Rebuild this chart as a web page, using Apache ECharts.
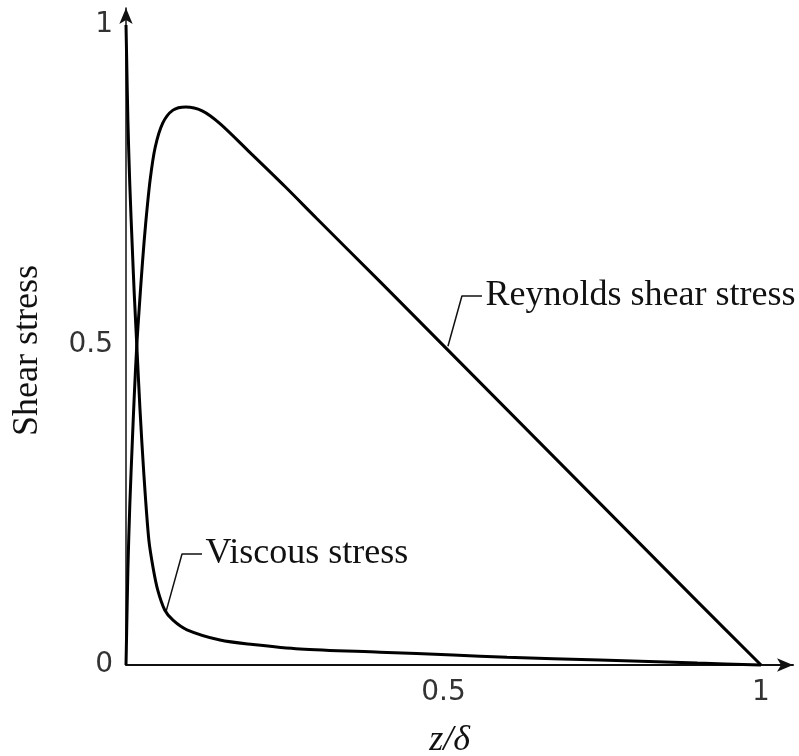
<!DOCTYPE html>
<html><head><meta charset="utf-8">
<script src="https://cdn.jsdelivr.net/npm/echarts@6/dist/echarts.min.js"></script>
<style>html,body{margin:0;padding:0;background:#fff}#c{width:799px;height:756px}</style>
</head><body><div id="c"></div>
<script>
// ---- data ----
const viscousX = [0, 0.001, 0.003, 0.006, 0.010, 0.013, 0.017, 0.022, 0.028, 0.036, 0.043, 0.050, 0.061, 0.074, 0.096, 0.148, 0.200, 0.274, 0.400, 0.515, 0.600, 0.746, 0.900, 1.000];
const viscousY = [1.0, 0.95, 0.85, 0.75, 0.65, 0.58, 0.50, 0.40, 0.30, 0.195, 0.15, 0.117, 0.086, 0.070, 0.055, 0.039, 0.032, 0.025, 0.020, 0.0156, 0.012, 0.0078, 0.003, 0.0];
const reynoldsX = [0, 0.001, 0.003, 0.006, 0.010, 0.013, 0.017, 0.021, 0.026, 0.031, 0.038, 0.046, 0.058, 0.074, 0.094, 0.120, 0.148, 0.195, 0.250, 0.300, 0.400, 0.500, 0.600, 0.700, 0.800, 0.900, 1.000];
const reynoldsY = [0, 0.05, 0.15, 0.25, 0.35, 0.42, 0.50, 0.56, 0.63, 0.69, 0.758, 0.809, 0.847, 0.867, 0.872, 0.866, 0.846, 0.801, 0.748, 0.698, 0.599, 0.499, 0.399, 0.299, 0.199, 0.099, 0];
const xTickLabels = [0.5, 1];
const yTickLabels = [0, 0.5, 1];
const viscousLeaderX = [0.0635, 0.0882, 0.1197];
const viscousLeaderY = [0.085, 0.1734, 0.1734];
const reynoldsLeaderX = [0.507, 0.529, 0.5606];
const reynoldsLeaderY = [0.498, 0.5766, 0.5766];
const viscousName = 'Viscous stress';
const reynoldsName = 'Reynolds shear stress';

const zip = (a, b) => a.map((v, i) => [v, b[i]]);
const serif = '"Liberation Serif", "Times New Roman", serif';
const sans = '"DejaVu Sans", Verdana, sans-serif';

function leader(xs, ys, text) {
  const n = xs.length;
  const d = zip(xs, ys).map((p, i) => ({
    value: p,
    label: i === n - 1
      ? { show: true, position: 'right', distance: 3, offset: [0, -12], formatter: text,
          fontFamily: serif, fontSize: 36, color: '#111' }
      : { show: false }
  }));
  return { type: 'line', data: d, symbol: 'circle', symbolSize: 1, showSymbol: true, clip: false, silent: true,
    itemStyle: { color: 'rgba(0,0,0,0)' },
    labelLayout: { hideOverlap: false },
    lineStyle: { color: '#111', width: 1.5 }, z: 3 };
}

const chart = echarts.init(document.getElementById('c'), null, { renderer: 'canvas' });
chart.setOption({
  animation: false,
  backgroundColor: '#fff',
  grid: { left: 126, right: 6, top: 8, bottom: 91, containLabel: false, outerBoundsMode: 'none' },
  xAxis: {
    type: 'value', min: 0, max: 1.0504,
    name: 'z/δ', nameLocation: 'middle', nameGap: 58,
    nameTextStyle: { fontFamily: serif, fontStyle: 'italic', fontSize: 36, color: '#111', padding: [0, 20, 0, 0] },
    axisLine: { show: true, symbol: ['none', 'arrow'], symbolSize: [10, 16],
      lineStyle: { color: '#111', width: 2 } },
    axisTick: { show: false },
    splitLine: { show: false },
    axisLabel: { customValues: xTickLabels, margin: 14, fontFamily: sans, fontSize: 28, color: '#333',
      formatter: v => String(v) }
  },
  yAxis: {
    type: 'value', min: 0, max: 1.0266,
    name: 'Shear stress', nameLocation: 'middle', nameGap: 80, nameRotate: 90,
    nameTextStyle: { fontFamily: serif, fontSize: 36, color: '#111', padding: [0, 28, 0, 0] },
    axisLine: { show: true, symbol: ['none', 'arrow'], symbolSize: [10, 16],
      lineStyle: { color: '#111', width: 1.5 } },
    axisTick: { show: false },
    splitLine: { show: false },
    axisLabel: { customValues: yTickLabels, margin: 13, fontFamily: sans, fontSize: 28, color: '#333',
      formatter: v => String(v) }
  },
  series: [
    { name: reynoldsName, type: 'line', data: zip(reynoldsX, reynoldsY), symbol: 'none', clip: false,
      smooth: 0.3, lineStyle: { color: '#000', width: 3 }, z: 4 },
    { name: viscousName, type: 'line', data: zip(viscousX, viscousY), symbol: 'none', clip: false,
      smooth: 0.3, lineStyle: { color: '#000', width: 3 }, z: 4 },
    leader(viscousLeaderX, viscousLeaderY, viscousName),
    leader(reynoldsLeaderX, reynoldsLeaderY, reynoldsName)
  ]
});
</script>
</body></html>
